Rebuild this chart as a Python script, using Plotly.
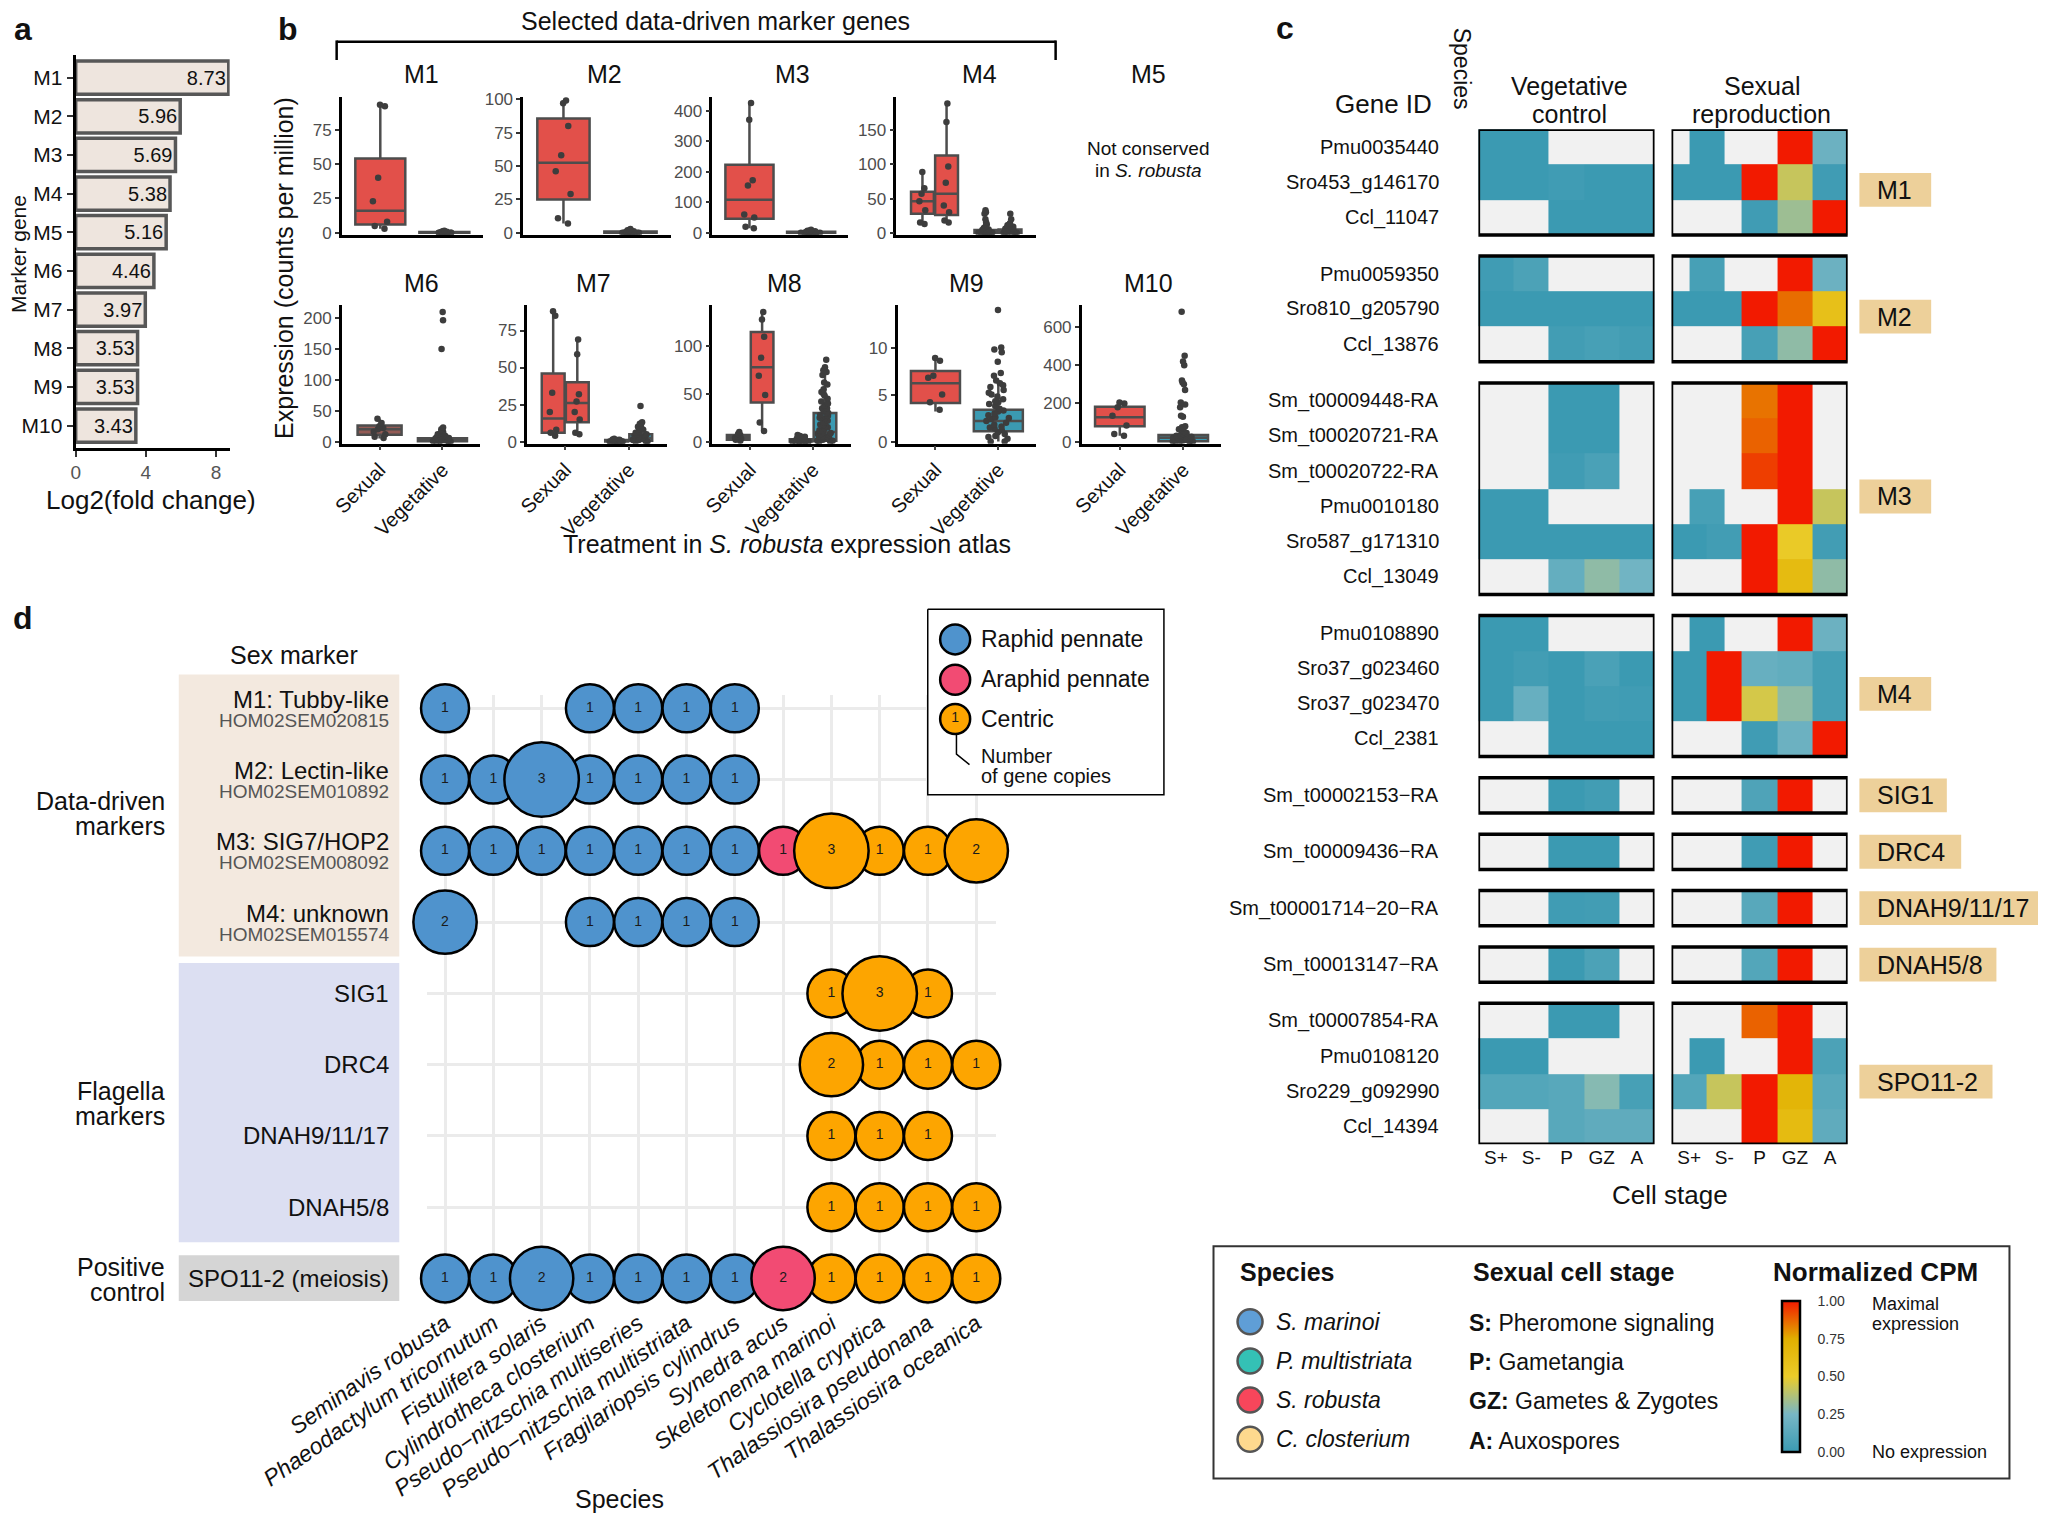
import plotly.graph_objects as go

# ======================= DATA =======================
# ---- panel a ----
marker_genes = ['M1', 'M2', 'M3', 'M4', 'M5', 'M6', 'M7', 'M8', 'M9', 'M10']
log2_fold_change = [8.73, 5.96, 5.69, 5.38, 5.16, 4.46, 3.97, 3.53, 3.53, 3.43]

# ---- panel b : box stats = [lower whisker, Q1, median, Q3, upper whisker] ----
treatments = ['Sexual', 'Vegetative']
m1_sex_box = [3, 6, 16, 54, 93]
m1_sex_pts = [93, 92, 40, 23, 8, 5, 3]
m1_veg_box = [0, 0, 0.2, 0.6, 1.5]
m1_veg_pts = [0, 0, 0, 0.1, 0.2, 0.3, 0.5, 0.8, 1.0, 1.2, 0.4, 0.2, 0, 0, 0.6, 1.5, 0.3, 0.1, 0, 0.9]
m2_sex_box = [7, 25, 52.5, 85.6, 99]
m2_sex_pts = [99, 97, 80, 58, 46, 29, 11, 7]
m2_veg_box = [0, 0, 0.4, 1.0, 2.5]
m2_veg_pts = [0, 0, 0.2, 0.5, 1, 1.5, 2, 2.8, 0.3, 0.1, 0, 0.7, 1.2, 0.4, 0, 0, 2.2, 0.9, 0.2, 0.6]
m3_sex_box = [15, 46, 108, 223, 425]
m3_sex_pts = [425, 370, 172, 155, 60, 50, 20, 15]
m3_veg_box = [0, 0, 1.5, 3.5, 8]
m3_veg_pts = [0, 1, 2, 3, 5, 8, 10, 4, 2, 1, 0, 0, 6, 3, 1, 0, 2, 7, 1, 0]
m4a_sex_box = [13, 28, 46, 60, 89]
m4a_sex_pts = [89, 65, 57, 46, 33, 15, 13]
m4b_sex_box = [15, 26, 57, 113, 189]
m4b_sex_pts = [189, 162, 97, 73, 40, 30, 18, 15]
m4a_veg_box = [0, 0, 1, 4, 10]
m4a_veg_pts = [33, 30, 28, 20, 15, 12, 10, 8, 6, 5, 4, 3, 2, 2, 1, 1, 0, 0, 0, 0, 0, 0, 1, 3, 5, 7]
m4b_veg_box = [0, 0, 1.5, 5, 11]
m4b_veg_pts = [28, 20, 14, 12, 10, 9, 8, 6, 5, 4, 3, 2, 1, 1, 0, 0, 0, 0, 2, 3, 6, 11]
m6_sex_box = [5, 11, 20, 26, 37]
m6_sex_pts = [37, 30, 25, 22, 20, 16, 12, 8, 6]
m6_veg_box = [0, 0.5, 2.5, 5.5, 13]
m6_veg_pts = [210, 197, 150, 23, 20, 18, 16, 15, 14, 12, 10, 9, 8, 7, 6, 5, 5, 4, 3, 3, 2, 2, 1, 1,
              0, 0, 0, 1, 2, 4, 6, 8, 11, 13]
m7a_sex_box = [4, 6, 15.6, 46, 88]
m7a_sex_pts = [88, 85, 33, 20, 8, 6, 4]
m7b_sex_box = [5, 13, 26, 40, 69]
m7b_sex_pts = [69, 59, 32, 27, 20, 15, 6, 5]
m7a_veg_box = [0, 0, 0.4, 1, 2]
m7a_veg_pts = [0, 0, 0, 0.5, 1, 1, 1.5, 2, 0.5, 0, 0.3, 0.8, 1.2, 0, 0.2]
m7b_veg_box = [0, 0.5, 2.5, 5, 11]
m7b_veg_pts = [24, 13, 12, 11, 10, 9, 8, 7, 6, 5, 5, 4, 4, 3, 3, 2, 2, 1, 1, 0, 0, 0, 1, 2, 3, 6, 8, 10]
m8a_sex_box = [1, 2, 4.5, 7, 10]
m8a_sex_pts = [10, 8, 7, 5, 4, 3, 2, 1]
m8b_sex_box = [11, 41, 78, 115, 136]
m8b_sex_pts = [136, 128, 110, 88, 69, 49, 20, 11]
m8a_veg_box = [0, 0, 1, 2.5, 6]
m8a_veg_pts = [7, 5, 4, 3, 2, 2, 1, 1, 0, 0, 0, 0, 1, 2, 3, 0, 1, 6]
m8b_veg_box = [0, 1, 10, 30, 70]
m8b_veg_pts = [86, 78, 75, 73, 70, 62, 60, 55, 52, 50, 48, 45, 42, 40, 38, 35, 33, 30, 28, 27, 25, 24,
               22, 20, 18, 17, 15, 14, 12, 10, 9, 8, 7, 6, 5, 4, 3, 2, 1, 0, 0, 1, 2, 3, 5, 8, 12,
               16, 20, 25, 30, 35]
m9_sex_box = [3.2, 4.1, 6.2, 7.5, 8.9]
m9_sex_pts = [8.9, 8.6, 7.0, 6.8, 5.0, 4.2, 3.4]
m9_veg_box = [0, 1.1, 2.2, 3.4, 6.5]
m9_veg_pts = [14, 10, 9.8, 9.5, 8.5, 7.3, 7, 6.5, 6.2, 6, 5.8, 5.5, 5, 4.8, 4.5, 4.2, 4, 3.8, 3.5,
              3.3, 3, 2.8, 2.6, 2.4, 2.2, 2, 1.8, 1.6, 1.4, 1.2, 1, 0.8, 0.5, 0.3, 0, 0, 0.6, 1.5,
              2.5, 3.2, 4.3, 5.2]
m10_sex_box = [30, 81, 128, 182, 205]
m10_sex_pts = [205, 200, 180, 135, 85, 40, 30]
m10_veg_box = [0, 2, 20, 35, 85]
m10_veg_pts = [680, 450, 420, 400, 320, 310, 300, 270, 205, 195, 180, 135, 130, 80, 75, 70, 65, 60,
               50, 45, 40, 35, 30, 25, 20, 18, 15, 12, 10, 8, 5, 3, 0, 0, 0, 2, 6, 14, 22, 28]

# ---- panel c ----
cell_stages = ['S+', 'S-', 'P', 'GZ', 'A']
gene_ids = ['Pmu0035440', 'Sro453_g146170', 'Ccl_11047',
            'Pmu0059350', 'Sro810_g205790', 'Ccl_13876',
            'Sm_t00009448-RA', 'Sm_t00020721-RA', 'Sm_t00020722-RA', 'Pmu0010180', 'Sro587_g171310', 'Ccl_13049',
            'Pmu0108890', 'Sro37_g023460', 'Sro37_g023470', 'Ccl_2381',
            'Sm_t00002153\u2212RA', 'Sm_t00009436\u2212RA', 'Sm_t00001714\u221220\u2212RA', 'Sm_t00013147\u2212RA',
            'Sm_t00007854-RA', 'Pmu0108120', 'Sro229_g092990', 'Ccl_14394']
gene_species = ['Pm', 'Sr', 'Cc', 'Pm', 'Sr', 'Cc', 'Sm', 'Sm', 'Sm', 'Pm', 'Sr', 'Cc',
                'Pm', 'Sr', 'Sr', 'Cc', 'Sm', 'Sm', 'Sm', 'Sm', 'Sm', 'Pm', 'Sr', 'Cc']
gene_block = ['M1'] * 3 + ['M2'] * 3 + ['M3'] * 6 + ['M4'] * 4 + ['SIG1', 'DRC4', 'DNAH9/11/17', 'DNAH5/8'] + ['SPO11-2'] * 4
N = None
veg_cpm = [
    [0, 0, N, N, N], [0, 0, 0.02, 0, 0], [N, N, 0, 0, 0],
    [0.02, 0.07, N, N, N], [0, 0, 0, 0, 0], [N, N, 0.03, 0.05, 0.03],
    [N, N, 0, 0, N], [N, N, 0, 0, N], [N, N, 0.02, 0.06, N], [0, 0, N, N, N], [0, 0, 0, 0, 0], [N, N, 0.17, 0.3, 0.22],
    [0, 0, N, N, N], [0, 0.03, 0, 0.06, 0], [0, 0.18, 0, 0.03, 0.02], [N, N, 0, 0, 0],
    [N, N, 0, 0.03, N], [N, N, 0, 0, N], [N, N, 0.02, 0.03, N], [N, N, 0, 0.07, N],
    [N, N, 0, 0, N], [0, 0, N, N, N], [0.1, 0.1, 0.12, 0.28, 0.05], [N, N, 0.12, 0.15, 0.15],
]
# P. multistriata has a single S sample (stored in the S+ slot)
sex_cpm = [
    [0, N, N, 1, 0.2], [0, 0, 1, 0.42, 0.02], [N, N, 0.02, 0.33, 1],
    [0.05, N, N, 1, 0.2], [0, 0, 1, 0.86, 0.6], [N, N, 0.05, 0.3, 1],
    [N, N, 0.85, 1, N], [N, N, 0.88, 1, N], [N, N, 0.94, 1, N], [0.05, N, N, 1, 0.42], [0, 0.03, 1, 0.52, 0.03], [N, N, 1, 0.65, 0.3],
    [0, N, N, 1, 0.2], [0, 1, 0.18, 0.16, 0.04], [0, 1, 0.45, 0.3, 0.04], [N, N, 0.02, 0.2, 1],
    [N, N, 0.08, 1, N], [N, N, 0.02, 1, N], [N, N, 0.12, 1, N], [N, N, 0.1, 1, N],
    [N, N, 0.88, 1, N], [0, N, N, 1, 0.07], [0.1, 0.42, 1, 0.7, 0.12], [N, N, 1, 0.65, 0.15],
]
block_order = ['M1', 'M2', 'M3', 'M4', 'SIG1', 'DRC4', 'DNAH9/11/17', 'DNAH5/8', 'SPO11-2']
species_names = {'Sm': 'S. marinoi', 'Pm': 'P. multistriata', 'Sr': 'S. robusta', 'Cc': 'C. closterium'}
stage_legend = [('S', 'Pheromone signaling'), ('P', 'Gametangia'), ('GZ', 'Gametes & Zygotes'), ('A', 'Auxospores')]

# ---- panel d ----
d_species = ['Seminavis robusta', 'Phaeodactylum tricornutum', 'Fistulifera solaris', 'Cylindrotheca closterium',
             'Pseudo\u2212nitzschia multiseries', 'Pseudo\u2212nitzschia multistriata', 'Fragilariopsis cylindrus',
             'Synedra acus', 'Skeletonema marinoi', 'Cyclotella cryptica', 'Thalassiosira pseudonana',
             'Thalassiosira oceanica']
d_clade = ['Raphid pennate'] * 7 + ['Araphid pennate'] + ['Centric'] * 4
d_marker_names = ['M1: Tubby-like', 'M2: Lectin-like', 'M3: SIG7/HOP2', 'M4: unknown',
                  'SIG1', 'DRC4', 'DNAH9/11/17', 'DNAH5/8', 'SPO11-2 (meiosis)']
d_marker_ids = ['HOM02SEM020815', 'HOM02SEM010892', 'HOM02SEM008092', 'HOM02SEM015574', '', '', '', '', '']
copies_m1 = [1, 0, 0, 1, 1, 1, 1, 0, 0, 0, 0, 0]
copies_m2 = [1, 1, 3, 1, 1, 1, 1, 0, 0, 0, 0, 0]
copies_m3 = [1, 1, 1, 1, 1, 1, 1, 1, 3, 1, 1, 2]
copies_m4 = [2, 0, 0, 1, 1, 1, 1, 0, 0, 0, 0, 0]
copies_sig1 = [0, 0, 0, 0, 0, 0, 0, 0, 1, 3, 1, 0]
copies_drc4 = [0, 0, 0, 0, 0, 0, 0, 0, 2, 1, 1, 1]
copies_dnah9 = [0, 0, 0, 0, 0, 0, 0, 0, 1, 1, 1, 0]
copies_dnah5 = [0, 0, 0, 0, 0, 0, 0, 0, 1, 1, 1, 1]
copies_spo11 = [1, 1, 2, 1, 1, 1, 1, 2, 1, 1, 1, 1]

# ======================= LAYOUT HELPERS =======================
PAGE_W, PAGE_H = 2046, 1523
OFF = 8                      # default page margin around the plot div
W, H = PAGE_W - 2 * OFF, PAGE_H - 2 * OFF
K = PAGE_W / 1568.0          # reference-view units -> page pixels
FONT = 'Liberation Sans, Arial, sans-serif'


def fx(x):
    return (x * K - OFF) / W


def fy(y):
    return 1 - (y * K - OFF) / H


fig = go.Figure()
axes_layout = {}
annotations = []
shapes = []
n_ax = [0]


def new_axes(xd, yd, xa=None, ya=None):
    n_ax[0] += 1
    s = '' if n_ax[0] == 1 else str(n_ax[0])
    X = dict(showgrid=False, zeroline=False, showline=False, ticks='', showticklabels=False, fixedrange=True)
    X.update(xa or {})
    X.update(domain=[max(0, fx(xd[0])), min(1, fx(xd[1]))], anchor='y' + s)
    Y = dict(showgrid=False, zeroline=False, showline=False, ticks='', showticklabels=False, fixedrange=True)
    Y.update(ya or {})
    Y.update(domain=[max(0, fy(yd[1])), min(1, fy(yd[0]))], anchor='x' + s)
    axes_layout['xaxis' + s] = X
    axes_layout['yaxis' + s] = Y
    return 'x' + s, 'y' + s


def txt(x, y, text, size, xanchor='center', color='#111111', angle=0, bold=False, yref='paper', ydata=None,
        yshift=0, yanchor='middle'):
    annotations.append(dict(
        x=fx(x), y=(fy(y) if ydata is None else ydata), xref='paper', yref=yref,
        text=('<b>%s</b>' % text) if bold else text, showarrow=False,
        font=dict(size=size, color=color, family=FONT), xanchor=xanchor, yanchor=yanchor,
        textangle=angle, yshift=yshift))


def line(x0, y0, x1, y1, width=2.5, color='black'):
    shapes.append(dict(type='line', xref='paper', yref='paper', x0=fx(x0), y0=fy(y0), x1=fx(x1), y1=fy(y1),
                       line=dict(color=color, width=width)))


def rect(x0, y0, x1, y1, fill, lw=0, lc='black', layer='below'):
    shapes.append(dict(type='rect', xref='paper', yref='paper', x0=fx(x0), y0=fy(y1), x1=fx(x1), y1=fy(y0),
                       fillcolor=fill, line=dict(color=lc, width=lw), layer=layer))


# ======================= PANEL A =======================
txt(18, 7, 'a', 32, bold=True, yanchor='top')
xa, ya = new_axes((58, 176), (42, 343),
                  dict(range=[0, 8.78], tickvals=[0, 4, 8], showticklabels=True, showline=True, linecolor='black',
                       linewidth=3, ticks='outside', ticklen=6, tickwidth=2, tickcolor='#333',
                       tickfont=dict(size=19, color='#555555')),
                  dict(type='category', categoryorder='array', categoryarray=marker_genes, range=[9.57, -0.59],
                       showticklabels=True, showline=True, linecolor='black', linewidth=3, ticks='outside',
                       ticklen=6, tickwidth=2, tickcolor='#333', tickfont=dict(size=21, color='#111111')))
fig.add_trace(go.Bar(x=log2_fold_change, y=marker_genes, orientation='h', xaxis=xa, yaxis=ya, width=0.86,
                     marker=dict(color='#EEE5DE', line=dict(color='#575757', width=3.5)),
                     text=['%.2f' % v for v in log2_fold_change], textposition='inside', insidetextanchor='end',
                     textfont=dict(size=20, color='#111111'), hoverinfo='skip', cliponaxis=False))
txt(116, 383, 'Log2(fold change)', 26)
txt((10.5 + OFF) / K, 195, 'Marker gene', 21, angle=-90)

# ======================= PANEL B =======================
txt(221, 7, 'b', 32, bold=True, yanchor='top')
txt(548, 16, 'Selected data-driven marker genes', 25)
line(258, 32, 809, 32)
line(258, 31, 258, 46)
line(809, 31, 809, 46)
txt(218, 205, 'Expression (counts per million)', 25, angle=-90)
txt(603, 417, 'Treatment in <i>S. robusta</i> expression atlas', 25)

SEX, VEG = '#E2504A', '#3B9AB2'
ROWS = [(74, 180), (234, 340)]
b_specs = [
    ('M1', 323, (262, 370), 0, 99, [0, 25, 50, 75],
     [(0, 0.78, SEX, m1_sex_box, m1_sex_pts), (1, 0.78, VEG, m1_veg_box, m1_veg_pts)]),
    ('M2', 463, (401, 514), 0, 102, [0, 25, 50, 75, 100],
     [(0, 0.78, SEX, m2_sex_box, m2_sex_pts), (1, 0.78, VEG, m2_veg_box, m2_veg_pts)]),
    ('M3', 607, (546, 650), 0, 446, [0, 100, 200, 300, 400],
     [(0, 0.78, SEX, m3_sex_box, m3_sex_pts), (1, 0.78, VEG, m3_veg_box, m3_veg_pts)]),
    ('M4', 751, (687, 794), 0, 199, [0, 50, 100, 150],
     [(-0.19, 0.36, SEX, m4a_sex_box, m4a_sex_pts), (0.19, 0.36, SEX, m4b_sex_box, m4b_sex_pts),
      (0.81, 0.36, VEG, m4a_veg_box, m4a_veg_pts), (1.19, 0.36, VEG, m4b_veg_box, m4b_veg_pts)]),
    ('M6', 323, (262, 368), 1, 221, [0, 50, 100, 150, 200],
     [(0, 0.7, '#935B55', m6_sex_box, m6_sex_pts), (1, 0.78, VEG, m6_veg_box, m6_veg_pts)]),
    ('M7', 455, (404, 511), 1, 92, [0, 25, 50, 75],
     [(-0.19, 0.36, SEX, m7a_sex_box, m7a_sex_pts), (0.19, 0.36, SEX, m7b_sex_box, m7b_sex_pts),
      (0.81, 0.36, VEG, m7a_veg_box, m7a_veg_pts), (1.19, 0.36, VEG, m7b_veg_box, m7b_veg_pts)]),
    ('M8', 601, (546, 652), 1, 143, [0, 50, 100],
     [(-0.19, 0.36, SEX, m8a_sex_box, m8a_sex_pts), (0.19, 0.36, SEX, m8b_sex_box, m8b_sex_pts),
      (0.81, 0.36, VEG, m8a_veg_box, m8a_veg_pts), (1.19, 0.36, VEG, m8b_veg_box, m8b_veg_pts)]),
    ('M9', 741, (688, 794), 1, 14.5, [0, 5, 10],
     [(0, 0.78, SEX, m9_sex_box, m9_sex_pts), (1, 0.78, VEG, m9_veg_box, m9_veg_pts)]),
    ('M10', 880, (829, 936), 1, 714, [0, 200, 400, 600],
     [(0, 0.78, SEX, m10_sex_box, m10_sex_pts), (1, 0.78, VEG, m10_veg_box, m10_veg_pts)]),
]
for name, tx, xd, row, ymax, yticks, groups in b_specs:
    top, bot = ROWS[row]
    txt(tx, top - 17, name, 25)
    xa_d = dict(range=[-0.6, 1.6], showline=True, linecolor='black', linewidth=2.5)
    if row == 1:
        xa_d.update(tickvals=[0, 1], ticktext=treatments, showticklabels=True, tickangle=-45, ticks='outside',
                    ticklen=4, tickwidth=1.5, tickfont=dict(size=20, color='#111111'))
    xa, ya = new_axes(xd, (top, bot), xa_d,
                      dict(range=[-0.015 * ymax, ymax], tickvals=yticks, showticklabels=True, showline=True,
                           linecolor='black', linewidth=2.5, ticks='outside', ticklen=4, tickwidth=1.5,
                           tickcolor='#333', tickfont=dict(size=17, color='#4D4D4D')))
    for pos, wdt, col, st, pts in groups:
        lo, q1, med, q3, hi = st
        fig.add_trace(go.Box(x=[pos], lowerfence=[lo], q1=[q1], median=[med], q3=[q3], upperfence=[hi],
                             width=wdt, fillcolor=col, line=dict(color='#4D4D4D', width=2.5), whiskerwidth=0,
                             boxpoints=False, orientation='v', xaxis=xa, yaxis=ya, hoverinfo='skip'))
        fig.add_trace(go.Box(x=[pos] * len(pts), y=pts, width=wdt, boxpoints='all',
                             jitter=(0.35 if col != VEG else (0.5 if wdt > 0.5 else 0.9)), pointpos=0,
                             fillcolor='rgba(0,0,0,0)', line=dict(width=0, color='rgba(0,0,0,0)'),
                             marker=dict(color='#3D3D3D', size=6.5), orientation='v', xaxis=xa, yaxis=ya,
                             hoverinfo='skip'))
txt(880, 57, 'M5', 25)
txt(880, 114, 'Not conserved', 19)
txt(880, 131, 'in <i>S. robusta</i>', 19)

# ======================= PANEL C =======================
txt(985, 6, 'c', 32, bold=True, yanchor='top')
zissou = [[0, '#3B9AB2'], [0.25, '#78B7C5'], [0.5, '#EBCC2A'], [0.75, '#E1AF00'], [1, '#F21A00']]
sp_color = {'Sm': '#5F9ED6', 'Pm': '#34C1B5', 'Sr': '#F7465B', 'Cc': '#FED98E'}
GAP = 0.6


def expand(v, single_s):
    out = []
    for val in v:
        out += [val, val]
    if single_s:
        out[0:4] = [None, v[0], v[0], None]
    return out


veg_rows, sex_rows, edges, row_pos, block_span = [], [], [0.0], [], {}
pos = 0.0
for bi, blk in enumerate(block_order):
    if bi:
        veg_rows.append([None] * 10)
        sex_rows.append([None] * 10)
        pos += GAP
        edges.append(pos)
    start = pos
    for gi in range(len(gene_ids)):
        if gene_block[gi] != blk:
            continue
        veg_rows.append(expand(veg_cpm[gi], False))
        sex_rows.append(expand(sex_cpm[gi], gene_species[gi] == 'Pm'))
        row_pos.append(pos + 0.5)
        pos += 1
        edges.append(pos)
    block_span[blk] = (start, pos)
TOTAL = pos
xedges = [i * 0.5 for i in range(11)]

hm_axes = []
for xd, rows, show in [((1133, 1268), veg_rows, False), ((1281, 1416), sex_rows, True)]:
    xa, ya = new_axes(xd, (99, 877),
                      dict(range=[0, 5], tickvals=[0.5, 1.5, 2.5, 3.5, 4.5], ticktext=cell_stages,
                           showticklabels=True, tickfont=dict(size=19, color='#111111')),
                      dict(range=[TOTAL, 0]))
    hm_axes.append((xa, ya))
    cb = dict(x=fx(1366), xanchor='left', y=fy(997), yanchor='top', len=(1113 - 997) * K / H, lenmode='fraction',
              thickness=18, outlinewidth=2.5, outlinecolor='black', tickvals=[0, 0.25, 0.5, 0.75, 1],
              ticktext=['0.00', '0.25', '0.50', '0.75', '1.00'], ticks='outside', ticklen=14,
              tickcolor='rgba(0,0,0,0)', tickfont=dict(size=14, color='#333333'), xpad=0, ypad=0)
    fig.add_trace(go.Heatmap(z=rows, x=xedges, y=edges, colorscale=zissou, zmin=0, zmax=1, showscale=show,
                             colorbar=cb if show else None, xaxis=xa, yaxis=ya, hoverinfo='skip'))
    for blk in block_order:
        y0, y1 = block_span[blk]
        shapes.append(dict(type='rect', xref=xa, yref=ya, x0=0, x1=5, y0=y0, y1=y1, fillcolor='#F1F1F1',
                           line=dict(width=0), layer='below'))
        shapes.append(dict(type='rect', xref=xa, yref=ya, x0=0, x1=5, y0=y0, y1=y1,
                           line=dict(color='black', width=3.5), layer='above'))

vxa, vya = hm_axes[0]
circle_x = (1117 - 1133) / (1268 - 1133) * 5
fig.add_trace(go.Scatter(x=[circle_x] * len(gene_ids), y=row_pos, mode='markers', xaxis=vxa, yaxis=vya,
                         marker=dict(size=24, color=[sp_color[s] for s in gene_species],
                                     line=dict(color='#555555', width=2.5)),
                         cliponaxis=False, hoverinfo='skip'))
for gi, g in enumerate(gene_ids):
    txt(1104, 0, g, 20, xanchor='right', yref=vya, ydata=row_pos[gi])

label_w = {'M1': 55, 'M2': 55, 'M3': 55, 'M4': 55, 'SIG1': 67, 'DRC4': 78, 'DNAH9/11/17': 140,
           'DNAH5/8': 105, 'SPO11-2': 102}
for blk in block_order:
    y0, y1 = block_span[blk]
    c = (y0 + y1) / 2 + (0.22 if y1 - y0 > 1 else 0)
    shapes.append(dict(type='rect', xref='paper', yref=vya, x0=fx(1425), x1=min(1, fx(1425 + label_w[blk])),
                       y0=c - 0.48, y1=c + 0.48, fillcolor='#EDD09A', line=dict(width=0), layer='below'))
    txt(1437, 0, blk, 25, xanchor='left', yref=vya, ydata=c)

txt(1060, 80, 'Gene ID', 26)
txt(1120, 53, 'Species', 23, angle=90)
txt(1203, 66, 'Vegetative', 25)
txt(1203, 87, 'control', 25)
txt(1350, 66, 'Sexual', 25)
txt(1350, 87, 'reproduction', 25)
txt(1280, 916, 'Cell stage', 26)

# legend box for panel c
rect(930, 955, 1540, 1133, 'rgba(0,0,0,0)', lw=2, lc='#333333', layer='above')
txt(949, 975, 'Species', 25, xanchor='left', bold=True)
txt(1127, 975, 'Sexual cell stage', 25, xanchor='left', bold=True)
txt(1357, 975, 'Normalized CPM', 26, xanchor='left', bold=True)
for i, sp in enumerate(['Sm', 'Pm', 'Sr', 'Cc']):
    txt(976, 1013 + 30 * i, '<i>%s</i>' % species_names[sp], 23, xanchor='left')
for i, (ab, desc) in enumerate(stage_legend):
    txt(1124, 1014 + 30 * i, '<b>%s:</b> %s' % (ab, desc), 23, xanchor='left')
txt(1433, 999, 'Maximal', 18, xanchor='left')
txt(1433, 1015, 'expression', 18, xanchor='left')
txt(1433, 1113, 'No expression', 18, xanchor='left')

# ======================= PANEL D =======================
txt(18, 458, 'd', 32, bold=True, yanchor='top')
clade_color = {'Raphid pennate': '#4F93CD', 'Araphid pennate': '#F24B73', 'Centric': '#FDA500'}
copies_rows = [copies_m1, copies_m2, copies_m3, copies_m4, copies_sig1, copies_drc4, copies_dnah9,
               copies_dnah5, copies_spo11]
rect(137, 517, 306, 733, '#F3E9DF')
rect(137, 738, 306, 952, '#DCDFF2')
rect(137, 962, 306, 997, '#D5D5D5')

dxa, dya = new_axes((327, 763), (533, 1000),
                    dict(range=[-0.38, 11.4], tickvals=list(range(12)),
                         ticktext=['<i>%s</i>' % s for s in d_species], showticklabels=True, tickangle=-35,
                         tickfont=dict(size=23, color='#111111'), showgrid=True, gridcolor='#EBEBEB',
                         gridwidth=3),
                    dict(range=[8.37, -0.18], tickvals=list(range(9)), showgrid=True, gridcolor='#EBEBEB',
                         gridwidth=3))
bub = []
for r, arr in enumerate(copies_rows):
    for c, n in enumerate(arr):
        if n:
            bub.append((n, c, r))
bub.sort(key=lambda t: t[0])
fig.add_trace(go.Scatter(x=[b[1] for b in bub], y=[b[2] for b in bub], mode='markers+text',
                         text=[str(b[0]) for b in bub], textposition='middle center',
                         textfont=dict(size=14, color='#1a1a1a'),
                         marker=dict(size=[48 * b[0] ** 0.4 for b in bub],
                                     color=[clade_color[d_clade[b[1]]] for b in bub],
                                     line=dict(color='black', width=2.5), opacity=1),
                         xaxis=dxa, yaxis=dya, cliponaxis=False, hoverinfo='skip'))
for r, name in enumerate(d_marker_names):
    if d_marker_ids[r]:
        txt(300, 0, name, 24, xanchor='right', yref=dya, ydata=r, yshift=9)
        txt(300, 0, d_marker_ids[r], 19, xanchor='right', color='#555555', yref=dya, ydata=r, yshift=-12)
    else:
        txt(300, 0, name, 24, xanchor='right', yref=dya, ydata=r)
txt(225, 502, 'Sex marker', 25)
txt(128, 614, 'Data-driven', 25, xanchor='right')
txt(128, 633, 'markers', 25, xanchor='right')
txt(128, 836, 'Flagella', 25, xanchor='right')
txt(128, 855, 'markers', 25, xanchor='right')
txt(128, 971, 'Positive', 25, xanchor='right')
txt(128, 990, 'control', 25, xanchor='right')
txt(475, 1149, 'Species', 25)

# ======================= overlay for legend glyphs =======================
oxa, oya = new_axes((OFF / K, (W + OFF) / K), (OFF / K, (H + OFF) / K),
                    dict(range=[OFF / K, (W + OFF) / K]), dict(range=[(H + OFF) / K, OFF / K]))
fig.add_trace(go.Scatter(x=[711, 892, 892, 711, 711], y=[467, 467, 609, 609, 467], mode='lines',
                         fill='toself', fillcolor='white', line=dict(color='black', width=1.5),
                         xaxis=oxa, yaxis=oya, hoverinfo='skip'))
fig.add_trace(go.Scatter(x=[733, 733, 743], y=[563, 578, 586], mode='lines', line=dict(color='black', width=1.5),
                         xaxis=oxa, yaxis=oya, hoverinfo='skip'))
leg_clades = ['Raphid pennate', 'Araphid pennate', 'Centric']
fig.add_trace(go.Scatter(x=[732] * 3, y=[490, 521, 551], mode='markers+text', text=['', '', '1'],
                         textfont=dict(size=14, color='#1a1a1a'),
                         marker=dict(size=30, color=[clade_color[c] for c in leg_clades],
                                     line=dict(color='black', width=2.5)),
                         xaxis=oxa, yaxis=oya, hoverinfo='skip'))
for i, c in enumerate(leg_clades):
    txt(750, 490 + 30.5 * i, c, 23, xanchor='left')
txt(750, 579, 'Number', 20, xanchor='left')
txt(750, 595, 'of gene copies', 20, xanchor='left')
fig.add_trace(go.Scatter(x=[958] * 4, y=[1013, 1043, 1073, 1103], mode='markers',
                         marker=dict(size=25, color=[sp_color[s] for s in ['Sm', 'Pm', 'Sr', 'Cc']],
                                     line=dict(color='#555555', width=2.5)),
                         xaxis=oxa, yaxis=oya, hoverinfo='skip'))

fig.update_layout(width=W, height=H, margin=dict(l=0, r=0, t=0, b=0), template='none',
                  paper_bgcolor='white', plot_bgcolor='rgba(0,0,0,0)', showlegend=False,
                  font=dict(family=FONT, color='#111111'), annotations=annotations, shapes=shapes,
                  boxmode='overlay', **axes_layout)
fig.write_html('out.html')
